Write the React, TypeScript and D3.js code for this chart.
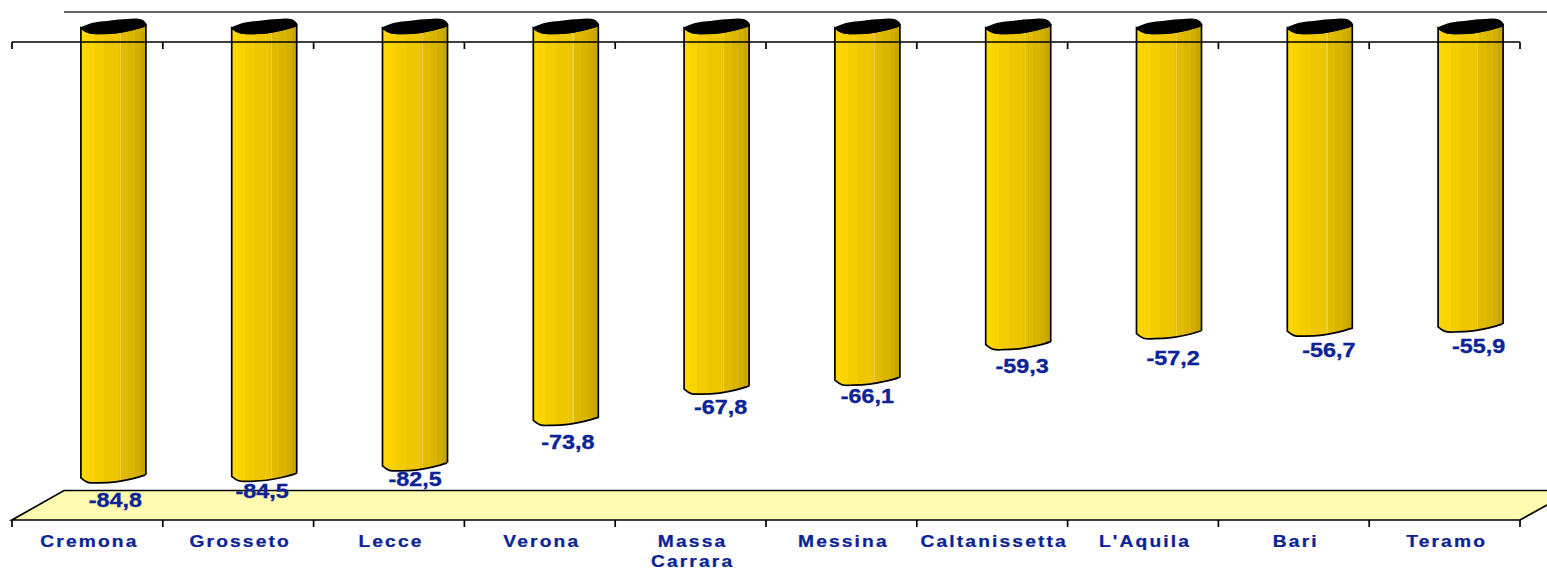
import { useEffect, useRef } from 'react';
import * as d3 from 'd3';

const provinces = ['Cremona', 'Grosseto', 'Lecce', 'Verona', 'Massa Carrara', 'Messina', 'Caltanissetta', "L'Aquila", 'Bari', 'Teramo'];
const values = [-84.8, -84.5, -82.5, -73.8, -67.8, -66.1, -59.3, -57.2, -56.7, -55.9];
const labelNudgeY = [21, 14, 12, 21, 17, 15, 20, 23, 18, 18];
const labelNudgeX = [0, -4, -2, 0, 2, -2, 2, 2, 7, 6];

const BLUE = '#0b2396';
const shades = ['#ffd700', '#fbd300', '#f4cd00', '#eec700', '#e8c100', '#ead04a', '#e0bb00', '#d9b500', '#d1ae00', '#c9a700'];
const shadeEdges = [0, 0.09, 0.2, 0.36, 0.58, 0.6, 0.62, 0.73, 0.84, 0.92, 1];

export default function App() {
  const ref = useRef<SVGSVGElement>(null);

  useEffect(() => {
    if (!ref.current) return;
    const svg = d3.select(ref.current);
    svg.selectAll('*').remove();

    const x = d3.scaleBand<string>().domain(provinces).range([12, 1520]);
    const y = d3.scaleLinear().domain([0, -90]).range([32, 502]);
    const DX = 52; // floor depth
    const DY = 29.5;
    const yFloor = 520;
    const yTop = 42;
    const SW = 1.7;

    // Gradient for the bars
    const defs = svg.append('defs');
    const grad = defs.append('linearGradient').attr('id', 'barFill');
    shades.forEach((c, i) => {
      grad.append('stop').attr('offset', shadeEdges[i]).attr('stop-color', c);
      grad.append('stop').attr('offset', shadeEdges[i + 1]).attr('stop-color', c);
    });

    // Back wall top line
    svg.append('line')
      .attr('x1', 12 + DX).attr('x2', 1547)
      .attr('y1', 12).attr('y2', 12)
      .attr('stroke', '#333').attr('stroke-width', SW);

    // Floor
    const floor = d3.path();
    floor.moveTo(12, yFloor);
    floor.lineTo(12 + DX, yFloor - DY);
    floor.lineTo(1547, yFloor - DY);
    floor.lineTo(1547, yFloor - 15);
    floor.lineTo(1520, yFloor);
    floor.closePath();
    svg.append('path').attr('d', floor.toString()).attr('fill', '#fffbb0').attr('stroke', 'none');
    const floorEdge = d3.path();
    floorEdge.moveTo(1547, yFloor - 15);
    floorEdge.lineTo(1520, yFloor);
    floorEdge.lineTo(12, yFloor);
    floorEdge.lineTo(12 + DX, yFloor - DY);
    floorEdge.lineTo(1547, yFloor - DY);
    svg.append('path').attr('d', floorEdge.toString()).attr('fill', 'none').attr('stroke', '#000').attr('stroke-width', SW);

    // Ticks
    const edges = provinces.map(p => x(p) as number).concat(1520);
    const drawTicks = (y0: number) => {
      svg.append('g').selectAll('line').data(edges).enter().append('line')
        .attr('x1', d => d).attr('x2', d => d)
        .attr('y1', y0).attr('y2', y0 + 7)
        .attr('stroke', '#000').attr('stroke-width', SW);
    };
    drawTicks(yFloor);

    // Wobbly cylinder outline, matches the rendered shape
    const curve = d3.line<[number, number]>().curve(d3.curveCatmullRom.alpha(0.5));
    const g = svg.selectAll('g.bar').data(provinces).enter().append('g').attr('class', 'bar');
    g.each(function (p, i) {
      const sel = d3.select(this);
      const cx = (x(p) as number) + x.bandwidth() / 2 + 26;
      const hw = 32.5;
      const l = cx - hw;
      const r = cx + hw;
      const bot = y(values[i]);
      const top = 28;
      const body = [
        `M${l},${top}`,
        curve([[l, top], [l + 8, top + 4.5], [l + 30, top + 5], [l + 50, top + 2], [r, top - 3]]),
        `L${r},${bot}`,
        curve([[r, bot], [r - 14, bot + 4], [r - 30, bot + 7], [l + 18, bot + 8], [l + 7, bot + 7.5], [l, bot + 3]])?.replace(/^M[^C]+/, ''),
        'Z',
      ].join('');
      sel.append('path').attr('d', body).attr('fill', 'url(#barFill)').attr('stroke', '#000').attr('stroke-width', SW);
      const cap = curve([
        [l, top], [l + 12, top - 4.5], [l + 28, top - 6.5], [l + 42, top - 8], [r - 5, top - 8], [r, top - 3],
        [r - 16, top + 2], [l + 32, top + 5], [l + 8, top + 4.5], [l, top],
      ]);
      sel.append('path').attr('d', cap as string).attr('fill', '#000').attr('stroke', '#000').attr('stroke-width', 1.4);
      sel.append('text')
        .attr('transform', `translate(${cx + 2 + labelNudgeX[i]},${bot + 11 + labelNudgeY[i]}) scale(1.14,1)`)
        .attr('text-anchor', 'middle')
        .attr('font-family', 'Liberation Sans')
        .attr('font-weight', 700)
        .attr('font-size', 20.5)
        .attr('stroke', BLUE)
        .attr('stroke-width', 0.35)
        .attr('fill', BLUE)
        .text(d3.format('.1f')(values[i]).replace('.', ',').replace('−', '-'));
    });

    // Top axis sits over the bars
    svg.append('line')
      .attr('x1', 12).attr('x2', 1520)
      .attr('y1', yTop).attr('y2', yTop)
      .attr('stroke', '#000').attr('stroke-width', SW);
    drawTicks(yTop);

    // Category labels
    provinces.forEach(p => {
      const cx = (x(p) as number) + x.bandwidth() / 2 + 2;
      const words = p === 'Massa Carrara' ? p.split(' ') : [p];
      words.forEach((w, k) => {
        svg.append('text')
          .attr('transform', `translate(${cx},${547 + k * 20}) scale(1.2,1)`)
          .attr('text-anchor', 'middle')
          .attr('font-family', 'Liberation Sans')
          .attr('font-weight', 700)
          .attr('font-size', 16)
          .attr('letter-spacing', 1.8)
          .attr('stroke', BLUE)
          .attr('stroke-width', 0.25)
          .attr('fill', BLUE)
          .text(w);
      });
    });
  }, []);

  return (
    <svg
      ref={ref}
      width={1547}
      height={571}
      style={{ position: 'absolute', left: 0, top: 0, display: 'block', background: '#fff' }}
    />
  );
}
